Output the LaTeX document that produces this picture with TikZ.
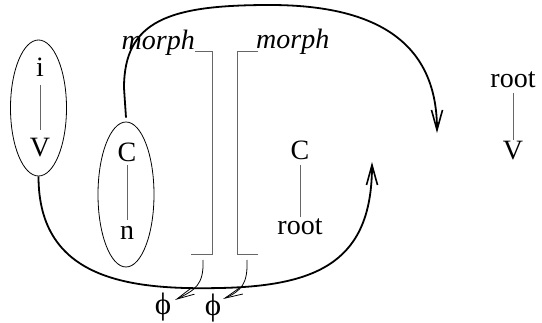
\documentclass[tikz,border=0pt]{standalone}
\usepackage{fontspec}
\setmainfont{Liberation Serif}
\newfontfamily\lserif{Liberation Serif}
\usetikzlibrary{shapes.geometric,arrows.meta}
\begin{document}
\begin{tikzpicture}[x=1pt,y=-1pt,
  lbl/.style={font=\lserif\fontsize{28}{30}\selectfont, inner sep=0pt, anchor=base},
  ilbl/.style={font=\lserif\itshape\fontsize{28}{30}\selectfont, inner sep=0pt},
  phil/.style={font=\lserif\fontsize{31}{33}\selectfont, inner sep=0pt, anchor=base},
  oval/.style={ellipse, draw, line width=0.8pt, inner sep=0pt},
  thinline/.style={draw=black!60, line width=0.9pt},
  bigarrow/.style={line width=1.8pt, -{Straight Barb[length=20pt,width=11pt,line width=1.6pt]}},
  smallarrow/.style={line width=0.8pt, -{Straight Barb[length=18pt,width=7pt,line width=0.8pt]}},
]
\useasboundingbox (0,0) rectangle (542,323);

% left ellipse: i -- V
\node[lbl] (i) at (40,77) {i};
\node[lbl] (v1) at (40,157) {V};
\node[oval, minimum width=56pt, minimum height=136pt] (e1) at (38.5,108) {};
\draw[thinline, shorten <=8pt, shorten >=27pt] (i.base) -- (v1.base);

% second ellipse: C -- n
\node[lbl] (c1) at (127,162) {C};
\node[lbl] (n1) at (127,240) {n};
\node[oval, minimum width=56pt, minimum height=145pt] (e2) at (126,194.5) {};
\draw[thinline, shorten <=3pt, shorten >=20pt] (c1.base) -- (n1.base);

% morph labels and brackets
\node[ilbl, anchor=base east] (m1) at (195,50) {morph};
\node[ilbl, anchor=base west] (m2) at (256,49) {morph};
\coordinate (b1a) at (195,51);
\coordinate (b1b) at (212,51);
\coordinate (b1c) at (212,254);
\coordinate (b1d) at (191,254);
\draw[thinline] (b1a) -- (b1b) -- (b1c) -- (b1d);
\coordinate (b2a) at (258,51);
\coordinate (b2b) at (237,51);
\coordinate (b2c) at (237,254);
\coordinate (b2d) at (258,254);
\draw[thinline] (b2a) -- (b2b) -- (b2c) -- (b2d);

% middle tree C -- root
\node[lbl] (c2) at (300,160) {C};
\node[lbl] (r2) at (300,235) {root};
\draw[thinline, shorten <=5pt, shorten >=18pt] (c2.base) -- (r2.base);

% right tree root -- V
\node[lbl] (r3) at (513,88) {root};
\node[lbl] (v3) at (513,160) {V};
\draw[thinline, shorten <=5pt, shorten >=20pt] (r3.base) -- (v3.base);

% phi symbols
\node[phil] (p1) at (163,315) {ϕ};
\node[phil] (p2) at (213,316) {ϕ};

% big curved arrows
\coordinate (t1) at (437,133);
\coordinate (t2) at (372,162);
\draw[bigarrow] ([yshift=4pt]e2.north) -- (124,88)
  .. controls (124,20) and (170,5) .. (270,5)
  .. controls (380,5) and (437,45) .. (t1);
\draw[bigarrow] (e1.south)
  .. controls (38.5,280) and (130,290) .. (220,288)
  .. controls (320,286) and (372,260) .. (t2);

% small arrows to phi
\coordinate (a1) at (203,260);
\coordinate (h1) at (175,300);
\coordinate (a2) at (247,260);
\coordinate (h2) at (223,299);
\draw[smallarrow] (a1) .. controls (204,285) and (195,290) .. (h1);
\draw[smallarrow] (a2) .. controls (248,284) and (241,291) .. (h2);
\end{tikzpicture}
\end{document}
